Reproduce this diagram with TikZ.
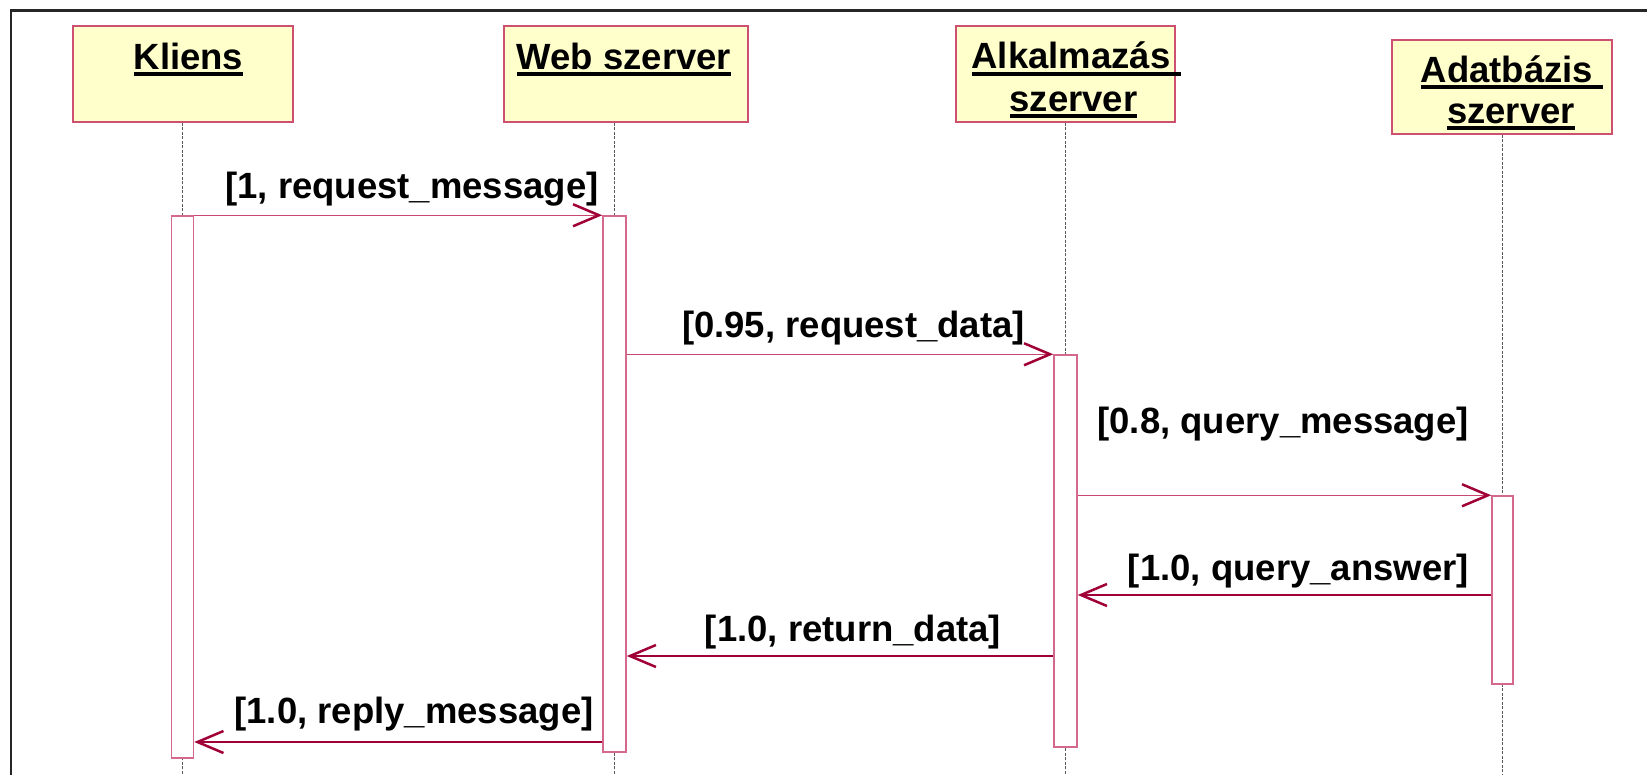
\documentclass[tikz,border=0pt]{standalone}
\usepackage{fontspec}
\setmainfont{Liberation Sans}
\usetikzlibrary{arrows.meta}

\definecolor{headfill}{RGB}{255,255,204}
\definecolor{boxline}{RGB}{205,80,115}
\definecolor{actline}{RGB}{212,105,140}
\definecolor{callline}{RGB}{200,72,112}
\definecolor{crim}{RGB}{160,0,55}
\definecolor{lifegray}{RGB}{90,90,90}

% underlined text with a heavy rule
\newsavebox\ulsave
\newcommand\ulbox[1]{\sbox\ulsave{#1}\rlap{\vrule width\wd\ulsave height -3pt depth 7pt}\usebox\ulsave}

\tikzset{
  head/.style={draw=boxline, fill=headfill, line width=1.5pt, inner sep=0pt},
  actbox/.style={draw=actline, fill=white, line width=1.5pt, inner sep=0pt},
  life/.style={draw=lifegray, line width=0.9pt, dash pattern=on 3pt off 1.5pt},
  txt/.style={inner sep=0pt, font=\fontsize{36.5pt}{42pt}\selectfont\bfseries},
  barb/.style={-{Straight Barb[length=26pt, width=22pt, line width=2.5pt, color=crim]}},
  call/.style={barb, draw=callline, line width=1.5pt},
  reply/.style={barb, draw=crim, line width=2pt},
  frameline/.style={draw=black!85, line width=2.5pt},
}

\begin{document}
\begin{tikzpicture}[x=1pt, y=-1pt]
\clip (0,0) rectangle (1647,774);
\fill[white] (0,0) rectangle (1647,774);

% outer frame (only top and left edges fall inside the page)
\draw[frameline] (11,1000) -- (11,10.5) -- (2000,10.5);

% object heads
\node[head, minimum width=220pt, minimum height=96pt] (hK) at (183,74) {};
\node[head, minimum width=244pt, minimum height=96pt] (hW) at (626,74) {};
\node[head, minimum width=219pt, minimum height=96pt] (hA) at (1065.5,74) {};
\node[head, minimum width=220pt, minimum height=94pt] (hD) at (1502,87) {};

\node[txt, anchor=base] (tK) at (188.5,69) {\ulbox{Kliens}};
\node[txt, anchor=base] (tW) at (624,69) {\ulbox{Web szerver}};
\node[txt, anchor=base] (tA1) at (1076,68.5) {\ulbox{Alkalmazás\ }};
\node[txt, anchor=base] (tA2) at (1073.5,111) {\ulbox{szerver}};
\node[txt, anchor=base] (tD1) at (1512,82) {\ulbox{Adatbázis\ }};
\node[txt, anchor=base] (tD2) at (1511,123) {\ulbox{szerver}};

% activation bars (positions only; drawn after lifelines)
\path
  (182.5,487) coordinate (cK)
  (614.5,484) coordinate (cW)
  (1065.5,551) coordinate (cA)
  (1502.5,590) coordinate (cD);

% lifelines
\coordinate (bottom) at (0,774);
\draw[life] (cK |- hK.south) -- (cK |- bottom);
\draw[life] (cW |- hW.south) -- (cW |- bottom);
\draw[life] (cA |- hA.south) -- (cA |- bottom);
\draw[life] (cD |- hD.south) -- (cD |- bottom);

\node[actbox, minimum width=22pt, minimum height=542pt] (aK) at (cK) {};
\node[actbox, minimum width=23pt, minimum height=536pt] (aW) at (cW) {};
\node[actbox, minimum width=23pt, minimum height=392pt] (aA) at (cA) {};
\node[actbox, minimum width=21pt, minimum height=188pt] (aD) at (cD) {};

% message levels for the replies
\coordinate (m4) at (0,595);
\coordinate (m5) at (0,656);
\coordinate (m6) at (0,742);

% messages
\draw[call] (aK.north east) -- (aW.north west);
\draw[call] (aW.east |- aA.north) -- (aA.north west);
\draw[call] (aA.east |- aD.north) -- (aD.north west);
\draw[reply] (aD.west |- m4) -- (aA.east |- m4);
\draw[reply] (aA.west |- m5) -- (aW.east |- m5);
\draw[reply] (aW.west |- m6) -- (aK.east |- m6);

% message labels
\node[txt, anchor=base] (l1) at (412,198) {[1, request\_message]};
\node[txt, anchor=base] (l2) at (853.5,337) {[0.95, request\_data]};
\node[txt, anchor=base east] (l3) at (1469,433) {[0.8, query\_message]};
\node[txt, anchor=base east] (l4) at (1469,580) {[1.0, query\_answer]};
\node[txt, anchor=base] (l5) at (853,641) {[1.0, return\_data]};
\node[txt, anchor=base] (l6) at (414,723) {[1.0, reply\_message]};
\end{tikzpicture}
\end{document}
